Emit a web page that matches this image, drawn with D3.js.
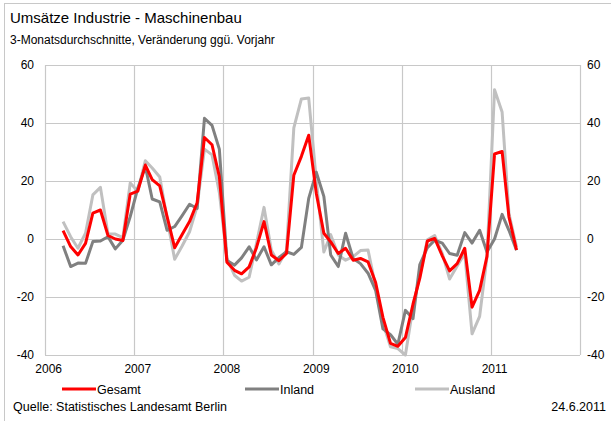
<!DOCTYPE html>
<html>
<head>
<meta charset="utf-8">
<script src="https://cdn.jsdelivr.net/npm/d3@7"></script>
<style>
  body { margin: 0; background: #fff; }
  svg text { font-family: "Liberation Sans", Arial, sans-serif; fill: #000; }
</style>
</head>
<body>
<script>
// monthly values, March 2006 .. April 2011 (3-month averages, % vs. previous year)
var firstMonth = new Date(2006, 2, 1);
var years = [2006, 2007, 2008, 2009, 2010, 2011];
var yTicks = [-40, -20, 0, 20, 40, 60];

var gesamt = [2.9, -2.6, -5.5, -1.5, 8.9, 10, 1.2, 0, -0.5, 15.5,
    16.5, 25.5, 20.5, 18.3, 7.7, -3, 1.5, 6, 12.5, 35,
    32.5, 21.5, -8, -10.8, -12, -9.6, -3, 6, -5.5, -7.5,
    -5, 22, 28.5, 35.8, 15.8, 2, -1, -5, -3.2, -7.3,
    -6.7, -7.9, -15, -27, -36, -37, -34, -22.5, -13.5, -0.7,
    0.2, -5.8, -11, -8.5, -3.2, -23.5, -17.7, -6, 29.3, 30.2,
    7.6, -3.8];
var inland = [-2.3, -9.5, -8.3, -8.4, -0.9, -0.7, 0.8, -3.4, -0.4, 7.7,
    17.5, 25, 13.8, 12.8, 3, 4.3, 8, 12, 10.5, 41.6,
    39.2, 31, -7.4, -9, -6.5, -2.7, -7.2, -2.7, -8.9, -6.4,
    -4.4, -5.3, -2.9, 14, 23, 14.7, -5.5, -9.5, 2, -6.7,
    -8.5, -11.8, -17.7, -31, -33, -36.3, -24.6, -27.5, -8.8, -3,
    -0.4, -1.4, -5, -5.6, 2.2, -1.4, 3, -4.5, 0, 8.5,
    3, -3.9];
var ausland = [6, 0.8, -3.2, 2, 15.2, 17.8, 1.7, 1.7, 0.5, 19.3,
    16.5, 27, 24.5, 21.4, 7, -7, -2.5, 2.5, 11.3, 31,
    29, 16, -6.6, -12.5, -14.5, -13.2, -1.6, 10.9, -3.9, -8.6,
    -3.9, 38.3, 48.3, 48.6, 20.3, -4.5, 1.5, -5.5, -7.3, -6.1,
    -4, -3.8, -16.5, -29, -37.2, -37.8, -40, -23.5, -12.5, -0.3,
    1.2, -5, -13.8, -9.3, -5, -32.7, -26.7, -6.2, 51.5, 43.8,
    8.8, -2.8];

var series = [
    {name: "Gesamt", values: gesamt, color: "#ff0000"},
    {name: "Inland", values: inland, color: "#808080"},
    {name: "Ausland", values: ausland, color: "#c0c0c0"}
];

(function () {
    var width = 611, height = 421;
    var plot = {left: 45, right: 580, top: 65, bottom: 355};

    var svg = d3.select("body").append("svg")
        .attr("width", width)
        .attr("height", height);

    // outer frame
    svg.append("rect")
        .attr("x", 4.5).attr("y", 3.5)
        .attr("width", 640).attr("height", 440)
        .attr("fill", "none")
        .attr("stroke", "#c8c8c8");

    var x = d3.scaleTime()
        .domain([new Date(2006, 0, 1), new Date(2012, 0, 1)])
        .range([plot.left, plot.right]);

    var y = d3.scaleLinear()
        .domain([-40, 60])
        .range([plot.bottom, plot.top]);

    function monthDate(i) {
        return new Date(firstMonth.getFullYear(), firstMonth.getMonth() + i, 16);
    }

    // grid
    svg.append("g").selectAll("line")
        .data(yTicks)
        .enter().append("line")
        .attr("x1", plot.left).attr("x2", plot.right)
        .attr("y1", function (d) { return Math.round(y(d)) + 0.5; })
        .attr("y2", function (d) { return Math.round(y(d)) + 0.5; })
        .attr("stroke", "#c8c8c8")
        .attr("stroke-width", 1.2);

    svg.append("g").selectAll("line")
        .data(years.concat([2012]))
        .enter().append("line")
        .attr("x1", function (d) { return Math.round(x(new Date(d, 0, 1))) + 0.5; })
        .attr("x2", function (d) { return Math.round(x(new Date(d, 0, 1))) + 0.5; })
        .attr("y1", plot.top).attr("y2", plot.bottom)
        .attr("stroke", "#c8c8c8")
        .attr("stroke-width", 1.2);

    // y labels both sides
    svg.append("g").selectAll("text")
        .data(yTicks)
        .enter().append("text")
        .attr("x", 34)
        .attr("y", function (d) { return y(d) + 4; })
        .attr("text-anchor", "end")
        .style("font-size", "12px")
        .text(function (d) { return d; });

    svg.append("g").selectAll("text")
        .data(yTicks)
        .enter().append("text")
        .attr("x", 587)
        .attr("y", function (d) { return y(d) + 4; })
        .style("font-size", "12px")
        .text(function (d) { return d; });

    // x labels
    svg.append("g").selectAll("text")
        .data(years)
        .enter().append("text")
        .attr("x", function (d) { return x(new Date(d, 0, 16)); })
        .attr("y", 373)
        .attr("text-anchor", "middle")
        .style("font-size", "12px")
        .text(function (d) { return d; });

    // lines
    var line = d3.line()
        .x(function (d, i) { return x(monthDate(i)); })
        .y(function (d) { return y(d); });

    series.slice().reverse().forEach(function (s) {
        svg.append("path")
            .datum(s.values)
            .attr("fill", "none")
            .attr("stroke", s.color)
            .attr("stroke-width", 3)
            .attr("stroke-linejoin", "round")
            .attr("d", line);
    });

    // legend
    var legendX = [62, 245, 415];
    var legend = svg.append("g").selectAll("g")
        .data(series)
        .enter().append("g")
        .attr("transform", function (d, i) { return "translate(" + legendX[i] + ",389)"; });
    legend.append("line")
        .attr("x1", 0).attr("x2", 34)
        .attr("stroke", function (d) { return d.color; })
        .attr("stroke-width", 3);
    legend.append("text")
        .attr("x", 35).attr("y", 4.5)
        .style("font-size", "12.5px")
        .text(function (d) { return d.name; });

    // titles
    svg.append("text")
        .attr("x", 10).attr("y", 23)
        .style("font-size", "15px")
        .text("Umsätze Industrie - Maschinenbau");
    svg.append("text")
        .attr("x", 10).attr("y", 44)
        .style("font-size", "12px")
        .text("3-Monatsdurchschnitte, Veränderung ggü. Vorjahr");
    svg.append("text")
        .attr("x", 13).attr("y", 411)
        .style("font-size", "12.5px")
        .text("Quelle: Statistisches Landesamt Berlin");
    svg.append("text")
        .attr("x", 606).attr("y", 411)
        .attr("text-anchor", "end")
        .style("font-size", "12.5px")
        .text("24.6.2011");
})();
</script>
</body>
</html>
